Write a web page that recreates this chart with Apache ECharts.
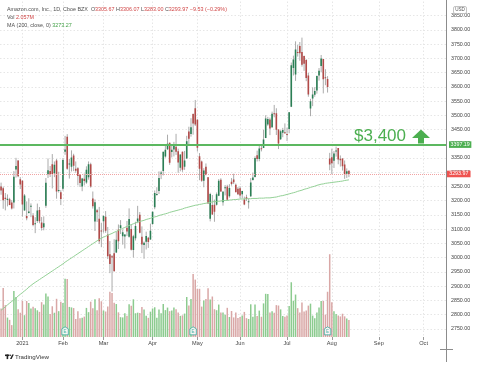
<!DOCTYPE html>
<html><head><meta charset="utf-8">
<script src="https://cdn.jsdelivr.net/npm/echarts@6/dist/echarts.min.js"></script>
<style>html,body{margin:0;padding:0;background:#fff}#c{width:480px;height:366px}</style>
</head><body><div id="c"></div>
<script>
// ---------- data ----------
const startDate = '2020-12-17';
const endDate = '2021-10-15';
const holidays = ['2020-12-25','2021-01-01','2021-01-18','2021-02-15','2021-04-02','2021-05-31','2021-07-05','2021-09-06'];
const monthLabels = ['2021','Feb','Mar','Apr','May','Jun','Jul','Aug','Sep','Oct','Nov','Dec'];

const opens = [3250.00,3243.99,3210.00,3202.84,3205.00,3193.90,3194.00,3309.94,3341.00,3275.00,
3270.00,3166.01,3146.48,3157.00,3180.00,3148.01,3120.00,3128.44,3167.52,3123.02,3107.00,3181.99,3293.00,3304.31,3328.50,3296.36,3341.49,3235.04,3230.00,
3242.36,3372.00,3425.01,3330.00,3319.00,3358.50,3312.49,3314.00,3292.00,3250.00,3277.00,3263.60,3282.42,3328.23,3208.13,3127.03,3166.75,3136.74,3095.20,
3127.89,3143.47,3081.18,3012.00,3005.00,3015.00,3017.99,3098.45,3104.01,3075.00,3074.57,3104.97,3073.22,3101.00,3027.00,3067.85,3127.00,3151.04,3072.99,3044.06,3055.44,3070.01,3064.06,
3117.94,3177.00,3223.75,3233.80,3294.56,3304.70,3355.21,3380.46,3404.04,3371.00,3380.00,3390.00,3373.36,3316.00,3371.68,3319.10,3348.00,3443.47,3434.80,3505.00,3525.12,
3484.73,3356.00,3338.00,3270.00,3319.09,3282.32,3136.28,3185.00,3185.47,3185.56,3217.00,3273.72,3195.00,3243.75,3250.00,3215.50,3266.67,3274.59,3256.00,3242.00,
3243.50,3223.10,3204.23,3212.00,3197.33,3215.50,3272.87,3282.94,3360.00,3346.83,3384.42,3385.00,3420.72,3467.71,3485.14,3458.09,3507.64,3507.64,3449.97,3416.00,3438.82,3440.65,
3434.61,3451.64,3530.00,3666.12,3643.56,3722.52,3744.00,3722.52,3708.87,3694.19,3640.00,3524.00,3559.00,3572.00,3587.23,3640.00,3673.17,3698.00,3633.84,3627.75,3347.95,
3353.10,3340.58,3375.00,3385.00,3347.00,3348.00,3327.13,3295.00,3305.67];
const highs = [3263.51,3249.42,3226.97,3222.00,3210.13,3202.00,3304.00,3350.65,3342.10,3282.92,
3272.00,3223.38,3197.51,3208.54,3190.64,3156.38,3142.14,3189.95,3178.00,3142.55,3145.00,3279.80,3348.55,3321.91,3363.89,3338.00,3346.52,3301.68,3236.99,
3350.26,3427.74,3434.00,3347.00,3377.00,3365.00,3338.00,3317.95,3292.00,3280.25,3295.45,3320.91,3338.00,3333.50,3232.32,3204.73,3171.23,3178.26,3122.44,
3149.00,3163.52,3107.78,3058.13,3009.00,3064.59,3090.96,3116.46,3131.78,3098.98,3082.24,3128.91,3173.05,3116.63,3080.00,3126.08,3182.00,3160.31,3109.78,3056.66,3091.25,3073.00,3119.33,
3162.44,3236.00,3247.40,3303.00,3305.00,3372.20,3395.04,3432.00,3404.13,3397.00,3406.80,3435.00,3382.99,3362.75,3372.87,3375.00,3428.00,3460.00,3489.88,3506.63,3554.00,
3486.65,3367.36,3341.00,3314.40,3330.95,3283.00,3228.00,3220.00,3203.84,3228.86,3276.00,3279.00,3234.00,3254.99,3256.00,3257.95,3279.50,3295.00,3260.36,3247.99,
3250.98,3235.00,3214.43,3221.00,3208.00,3279.53,3297.58,3356.00,3376.00,3395.78,3397.25,3449.00,3500.43,3494.59,3492.00,3513.00,3536.61,3524.86,3451.00,3448.00,3456.03,3471.58,
3457.00,3511.72,3685.48,3709.70,3759.99,3748.00,3757.72,3773.08,3710.00,3697.41,3648.99,3557.97,3598.11,3599.08,3640.00,3666.11,3712.08,3698.00,3662.00,3637.77,3368.14,
3382.89,3374.45,3390.00,3385.00,3359.00,3349.00,3341.28,3313.46,3306.07];
const lows = [3221.00,3171.60,3166.00,3180.08,3184.17,3169.00,3172.69,3281.22,3282.47,3241.20,
3144.02,3165.06,3131.16,3155.00,3142.20,3110.00,3086.00,3122.08,3120.59,3095.17,3096.00,3175.00,3279.72,3283.16,3243.15,3282.87,3207.08,3228.69,3184.55,
3235.03,3361.13,3308.62,3277.75,3302.71,3304.00,3297.84,3254.00,3248.06,3233.31,3253.50,3259.50,3273.94,3245.75,3172.26,3093.60,3125.38,3047.76,3036.70,
3087.99,3087.12,2995.00,2945.43,2881.00,2951.31,3016.00,3030.05,3082.93,3045.50,3032.09,3075.81,3070.22,3025.00,3000.11,3060.05,3120.85,3085.15,3016.01,2996.00,3028.45,3034.00,3062.50,
3115.55,3170.00,3217.60,3223.59,3275.65,3288.90,3351.15,3378.00,3326.00,3352.00,3355.59,3360.73,3298.01,3303.27,3301.45,3308.50,3347.01,3398.01,3425.00,3432.00,3462.50,
3372.70,3272.00,3266.37,3247.20,3289.07,3190.00,3127.37,3150.02,3126.00,3183.00,3216.00,3231.32,3182.51,3218.55,3200.10,3210.50,3253.02,3258.51,3230.04,3219.70,
3209.06,3208.00,3184.26,3198.81,3172.20,3213.00,3270.70,3281.52,3337.86,3338.52,3373.25,3385.00,3420.00,3463.00,3430.41,3456.00,3493.00,3430.85,3381.50,3413.51,3423.03,3435.00,
3409.70,3436.92,3529.00,3640.00,3621.12,3706.41,3692.00,3671.00,3656.33,3620.00,3565.29,3497.00,3532.34,3565.18,3576.20,3622.03,3651.00,3577.00,3605.87,3580.00,3306.98,
3292.66,3315.00,3354.86,3328.00,3320.00,3306.00,3276.85,3280.00,3283.00];
const closes = [3236.08,3201.65,3206.18,3206.52,3185.27,3172.69,3283.96,3322.00,3285.85,3256.93,
3186.63,3218.51,3138.38,3162.16,3182.70,3114.21,3120.83,3165.89,3127.47,3104.25,3120.76,3263.38,3306.99,3292.23,3294.00,3326.13,3232.58,3237.62,3206.20,
3342.88,3380.00,3312.53,3331.00,3352.15,3322.94,3305.00,3286.58,3262.13,3277.71,3268.95,3308.64,3328.23,3249.90,3180.74,3194.50,3159.53,3057.16,3092.93,
3146.14,3094.53,3005.00,2977.57,3000.46,2951.95,3062.85,3057.64,3113.59,3089.49,3081.68,3091.86,3135.73,3027.99,3074.96,3110.87,3137.50,3087.07,3046.26,3052.03,3075.73,3055.29,3094.08,
3161.00,3226.73,3223.82,3279.39,3299.30,3372.20,3379.39,3400.00,3333.00,3379.09,3399.44,3372.01,3334.69,3362.02,3309.04,3340.88,3409.00,3417.43,3458.50,3471.31,3467.42,
3386.49,3311.87,3270.54,3306.37,3291.61,3190.49,3223.91,3151.94,3161.47,3222.90,3270.39,3232.28,3231.80,3247.68,3203.08,3244.99,3259.05,3265.16,3230.11,3223.07,
3218.65,3233.99,3187.01,3206.22,3198.01,3264.11,3281.15,3349.65,3346.83,3383.87,3383.13,3415.25,3489.24,3486.90,3453.96,3505.44,3503.82,3449.08,3401.46,3443.89,3448.14,3440.16,
3432.97,3510.98,3675.74,3696.58,3731.41,3719.34,3718.55,3677.36,3681.68,3631.20,3573.63,3549.59,3573.19,3585.20,3638.03,3656.64,3699.82,3626.39,3630.32,3599.92,3327.59,
3331.48,3366.24,3375.99,3344.94,3341.87,3320.68,3292.11,3303.50,3293.97];
// volume, millions of shares
const volumes = [3.47,5.99,3.89,2.37,2.09,1.45,5.60,4.87,3.38,2.96,
4.41,2.66,4.39,4.16,3.49,3.68,3.52,3.26,3.07,4.25,3.96,5.31,4.94,2.82,3.75,2.96,4.66,3.15,4.29,
4.16,7.10,7.09,3.67,3.61,3.53,2.21,3.15,2.30,2.34,2.49,3.55,3.03,4.31,3.52,4.61,3.27,4.73,4.36,
3.23,3.11,3.72,5.51,5.38,4.17,4.02,3.01,2.42,2.39,2.91,2.58,3.99,3.81,4.60,2.90,2.97,2.94,3.67,3.34,2.59,2.34,3.09,
3.48,3.63,2.35,3.35,2.90,4.03,3.28,3.59,3.15,3.23,3.60,3.40,2.98,2.58,2.64,2.86,4.88,3.83,4.63,7.68,7.00,
5.88,5.88,3.71,4.45,4.64,5.95,4.58,4.94,3.39,3.27,3.96,2.99,2.98,2.71,3.56,2.44,3.17,2.39,3.00,2.32,
2.43,2.63,3.06,2.30,2.20,3.99,2.46,3.98,2.56,3.22,2.47,4.10,5.27,5.25,3.00,3.14,2.97,3.89,3.84,3.37,2.55,2.46,
2.63,3.78,6.68,4.43,5.18,3.52,2.98,4.21,3.12,3.23,3.83,4.07,2.61,2.29,3.00,3.60,4.39,4.40,2.73,5.52,10.10,
4.25,3.15,2.81,2.63,2.51,2.84,2.52,2.25,2.06];
const ma200 = [2815,2821,2827,2834,2840,2846,2852,2858,2865,2871,2877,2883,2889,2896,2902,2908,
2913,2918,2923,2928,2933,2938,2943,2948,2953,2958,2963,2968,2973,2978,2984,2989,
2994,2999,3004,3009,3014,3019,3024,3029,3034,3039,3044,3049,3054,3059,3064,
3068,3072,3075,3079,3082,3085,3089,3092,3096,3099,3103,3106,3110,3113,3116,3119,
3122,3124,3127,3129,3131,3134,3136,3138,3141,3143,3145,3148,3150,
3152,3154,3156,3159,3161,3163,3165,3167,3169,3171,3174,3176,3178,3180,3182,
3184,3185,3187,3188,3190,3191,3193,3194,3196,
3197,3197,3198,3199,3200,3201,3201,3202,3203,3204,3204,3205,3206,
3206,3206,3207,3207,3207,3208,3208,3208,3209,3209,3209,3210,3210,3210,
3211,3212,3213,3215,3217,3218,3220,3222,3224,3226,3228,
3230,3233,3235,3237,3240,3242,3244,3247,3249,3251,3254,3256,
3258,3259,3261,3262,3263,3264,3265,3266,3267,3268,3269,3271,3272,3273.27];
const earningsDates = ['2021-02-02','2021-04-29','2021-07-29'];
const keyLevel = 3397.19;
const lastPrice = 3293.97;
const priceMin = 2700, priceMax = 3900, priceStep = 50;
const volumeMax = 12.2;

// ---------- helpers ----------
function tradingDays(s, e) {
  const out = [];
  const d = new Date(s + 'T00:00:00Z');
  const end = new Date(e + 'T00:00:00Z');
  while (d <= end) {
    const wd = d.getUTCDay();
    const iso = d.toISOString().slice(0, 10);
    if (wd !== 0 && wd !== 6 && !holidays.includes(iso)) out.push(iso);
    d.setUTCDate(d.getUTCDate() + 1);
  }
  return out;
}
const dates = tradingDays(startDate, endDate);
const monthStart = new Set();
dates.forEach((d, i) => { if (i > 0 && d.slice(5, 7) !== dates[i - 1].slice(5, 7)) monthStart.add(i); });
const isMonthStart = (i) => monthStart.has(i);

const FONT = '"Liberation Sans", Arial, sans-serif';
const UP = '#2b7f55', DOWN = '#b24a48', WICK = '#ababab';
const VUP = '#8ccb8f', VDOWN = '#d9a7a6';
const GRID = '#e6e6e6';
const BODY_W = 1.6;

const candleData = opens.map((o, i) => [i, o, closes[i], lows[i], highs[i]]);
const volData = volumes.map((v, i) => ({ value: v, itemStyle: { color: closes[i] >= opens[i] ? VUP : VDOWN } }));
const earnData = earningsDates.map(d => [dates.indexOf(d), 0.75]);

function renderCandle(params, api) {
  const i = api.value(0);
  const o = api.value(1), c = api.value(2), l = api.value(3), h = api.value(4);
  const po = api.coord([i, o]), pc = api.coord([i, c]);
  const pl = api.coord([i, l]), ph = api.coord([i, h]);
  const x = po[0];
  const top = Math.min(po[1], pc[1]);
  const hgt = Math.max(Math.abs(po[1] - pc[1]), 1);
  return { type: 'group', children: [
    { type: 'line', shape: { x1: x, y1: ph[1], x2: x, y2: pl[1] }, style: { stroke: WICK, lineWidth: 1 } },
    { type: 'rect', shape: { x: x - BODY_W / 2, y: top, width: BODY_W, height: hgt }, style: { fill: c >= o ? UP : DOWN } }
  ]};
}

const chart = echarts.init(document.getElementById('c'), null, { renderer: 'canvas' });
const g = { color: '#505050', fontSize: 5.4, fontFamily: FONT, lineHeight: 8 };
const r = { color: '#d04545', fontSize: 5.4, fontFamily: FONT, lineHeight: 8 };
const gr = { color: '#43a047', fontSize: 5.4, fontFamily: FONT, lineHeight: 8 };

chart.setOption({
  animation: false,
  backgroundColor: '#fff',
  title: {
    left: 7, top: 6, padding: 0,
    text: '{g|Amazon.com, Inc., 1D, Cboe BZX}\u00a0\u00a0{g|O}{r|3305.67} {g|H}{r|3306.07} {g|L}{r|3283.00} {g|C}{r|3293.97} {r|\u22129.53 (\u22120.29%)}\n' +
          '{g|Vol} {r|2.057M}\n' +
          '{g|MA (200, close, 0)} {gr|3273.27}',
    textStyle: { fontSize: 5.4, fontFamily: FONT, lineHeight: 8, fontWeight: 'normal', rich: { g, r, gr } }
  },
  grid: [
    { left: 0, right: 34, top: 1.5, bottom: 23 },
    { left: 0, right: 34, top: 237, bottom: 29 }
  ],
  xAxis: [
    { type: 'category', gridIndex: 0, data: dates, boundaryGap: true,
      axisLine: { show: false }, axisTick: { show: false }, axisLabel: { show: false },
      splitLine: { show: true, interval: (i) => isMonthStart(i), alignWithLabel: true,
        lineStyle: { color: GRID, width: 1, type: [1.5, 2] } } },
    { type: 'category', gridIndex: 1, data: dates, boundaryGap: true,
      axisLine: { show: false },
      axisTick: { show: true, interval: (i) => isMonthStart(i), alignWithLabel: true, length: 3,
        lineStyle: { color: '#9a9a9a' } },
      axisLabel: { show: true, interval: (i) => isMonthStart(i), margin: 3,
        formatter: (v) => monthLabels[+v.slice(5, 7) - 1],
        fontSize: 5.6, color: '#444', fontFamily: FONT },
      splitLine: { show: false } }
  ],
  yAxis: [
    { type: 'value', gridIndex: 0, position: 'right', min: priceMin, max: priceMax, interval: priceStep,
      axisLine: { show: false }, axisTick: { show: false },
      axisLabel: { margin: 5, fontSize: 5.3, color: '#444', fontFamily: FONT,
        formatter: (v) => (v === priceMin || v === priceMax) ? '' : v.toFixed(2) },
      splitLine: { show: true, showMinLine: false, showMaxLine: false,
        lineStyle: { color: GRID, width: 1, type: [1.5, 2] } } },
    { type: 'value', gridIndex: 1, min: 0, max: volumeMax, show: false, splitLine: { show: false } }
  ],
  series: [
    { type: 'bar', name: 'Volume', xAxisIndex: 1, yAxisIndex: 1, data: volData, barWidth: 1.5, z: 1, silent: true },
    { type: 'custom', name: 'AMZN', xAxisIndex: 0, yAxisIndex: 0, data: candleData,
      encode: { x: 0, y: [1, 2, 3, 4] }, renderItem: renderCandle, z: 3, silent: true, clip: true },
    { type: 'line', name: 'MA 200', xAxisIndex: 0, yAxisIndex: 0, data: ma200, symbol: 'none', z: 4, silent: true,
      lineStyle: { color: '#93d196', width: 1 },
      markLine: { silent: true, symbol: ['none', 'none'], animation: false,
        data: [
          { yAxis: keyLevel, lineStyle: { color: '#5cb860', width: 2, type: 'solid' },
            label: { show: true, position: 'end', distance: 3, formatter: (p) => p.value.toFixed(2),
              backgroundColor: '#4caf50', color: '#fff', fontSize: 5.3, fontFamily: FONT, padding: [0.8, 1.6] } },
          { yAxis: lastPrice, lineStyle: { color: '#f1a3a3', width: 1, type: 'dotted' },
            label: { show: true, position: 'end', distance: 1, formatter: (p) => p.value.toFixed(2),
              backgroundColor: '#ef5350', color: '#fff', fontSize: 5.3, fontFamily: FONT, padding: [0.8, 2.2] } }
        ] } },
    { type: 'scatter', name: 'Earnings', xAxisIndex: 1, yAxisIndex: 1, data: earnData, z: 5, silent: true,
      symbol: 'path://M5,0 L10,3 L10,12 L0,12 L0,3 Z', symbolSize: [6.5, 8],
      itemStyle: { color: '#ffffff', borderColor: '#26a69a', borderWidth: 0.9 },
      label: { show: true, position: 'inside', formatter: 'E', fontSize: 4.6, color: '#26a69a', fontFamily: FONT, offset: [0, 0.8] } }
  ],
  graphic: [
    { type: 'line', shape: { x1: 446.5, y1: 0, x2: 446.5, y2: 362 }, style: { stroke: '#8c8c8c', lineWidth: 1 }, z: 50 },
    { type: 'line', shape: { x1: 440, y1: 349.5, x2: 453, y2: 349.5 }, style: { stroke: '#8c8c8c', lineWidth: 1 }, z: 50 },
    { type: 'rect', shape: { x: 453.5, y: 6.5, width: 13, height: 7, r: 1.5 }, style: { fill: '#fff', stroke: '#b5b5b5', lineWidth: 0.8 }, z: 60 },
    { type: 'text', x: 460, y: 10.2, style: { text: 'USD', fill: '#555', font: '4.6px ' + FONT, textAlign: 'center', textVerticalAlign: 'middle' }, z: 61 },
    { type: 'text', x: 354, y: 136, style: { text: '$3,400', fill: '#4caf50', font: '17px ' + FONT, textAlign: 'left', textVerticalAlign: 'middle' }, z: 40 },
    { type: 'polygon', shape: { points: [[421, 129.5], [430, 138], [424, 138], [424, 143.5], [418, 143.5], [418, 138], [412, 138]] }, style: { fill: '#4caf50' }, z: 40 },
    { type: 'rect', shape: { x: 5, y: 354.5, width: 4.2, height: 1.6 }, style: { fill: '#222' }, z: 40 },
    { type: 'rect', shape: { x: 6.6, y: 354.5, width: 1.6, height: 4.6 }, style: { fill: '#222' }, z: 40 },
    { type: 'circle', shape: { cx: 10.2, cy: 355.3, r: 0.8 }, style: { fill: '#222' }, z: 40 },
    { type: 'polygon', shape: { points: [[12.2, 354.5], [13.8, 354.5], [11.6, 359.1], [10.0, 359.1]] }, style: { fill: '#222' }, z: 40 },
    { type: 'text', x: 15, y: 357, style: { text: 'TradingView', fill: '#333', font: '6.2px ' + FONT, textAlign: 'left', textVerticalAlign: 'middle' }, z: 40 }
  ]
});
</script>
</body></html>
